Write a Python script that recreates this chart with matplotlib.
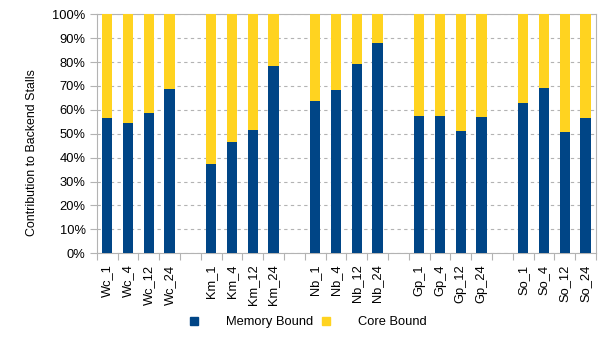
import matplotlib
matplotlib.use("Agg")
import matplotlib.pyplot as plt
from matplotlib.lines import Line2D
import numpy as np

plt.rcParams['font.family'] = ['Liberation Sans', 'DejaVu Sans']

categories = ["Wc_1", "Wc_4", "Wc_12", "Wc_24", "",
              "Km_1", "Km_4", "Km_12", "Km_24", "",
              "Nb_1", "Nb_4", "Nb_12", "Nb_24", "",
              "Gp_1", "Gp_4", "Gp_12", "Gp_24", "",
              "So_1", "So_4", "So_12", "So_24"]
memory_bound = [56.7, 54.6, 58.9, 68.8, np.nan,
                37.5, 46.7, 51.7, 78.2, np.nan,
                63.6, 68.2, 79.4, 87.9, np.nan,
                57.5, 57.4, 51.0, 57.2, np.nan,
                62.8, 69.0, 50.7, 56.7]
core_bound = [43.3, 45.4, 41.1, 31.2, np.nan,
              62.5, 53.3, 48.3, 21.8, np.nan,
              36.4, 31.8, 20.6, 12.1, np.nan,
              42.5, 42.6, 49.0, 42.8, np.nan,
              37.2, 31.0, 49.3, 43.3]
yticks = [0, 10, 20, 30, 40, 50, 60, 70, 80, 90, 100]

BLUE = "#004586"
YELLOW = "#ffd320"
GRID = "#b3b3b3"

fig = plt.figure(figsize=(6.05, 3.40), dpi=100)
ax = fig.add_axes([0.160, 0.255, 0.825, 0.703])

x = np.arange(len(categories))
mem = np.array(memory_bound)
core = np.array(core_bound)
ax.bar(x, mem, width=0.5, color=BLUE, zorder=3)
ax.bar(x, core, width=0.5, bottom=mem, color=YELLOW, zorder=3)

ax.set_xlim(-0.5, len(categories) - 0.5)
ax.set_ylim(0, 100)
ax.set_yticks(yticks)
ax.set_yticklabels([f"{v}%" for v in yticks], fontsize=9.3, color="#000000")
ax.set_xticks(x)
ax.set_xticklabels(categories, rotation=90, fontsize=9.3)
ax.set_xticks(np.arange(-0.5, len(categories), 1.0), minor=True)
ax.tick_params(axis='x', which='major', length=0, pad=8)
ax.tick_params(axis='x', which='minor', length=5, color=GRID, width=0.8)
ax.tick_params(axis='y', which='major', length=5, color=GRID, width=0.8, pad=3)

ax.yaxis.grid(True, color=GRID, linestyle=(0, (3, 3)), linewidth=0.8, zorder=0)
for s in ax.spines.values():
    s.set_color(GRID)
    s.set_linewidth(0.8)

ax.set_ylabel("Contribution to Backend Stalls", fontsize=8.9)
ax.yaxis.set_label_coords(-0.117, 0.42)

handles = [Line2D([], [], marker='s', linestyle='none', markersize=5.5,
                  markerfacecolor=BLUE, markeredgecolor=BLUE),
           Line2D([], [], marker='s', linestyle='none', markersize=5.5,
                  markerfacecolor=YELLOW, markeredgecolor=YELLOW)]
fig.legend(handles, ["Memory Bound", "Core Bound"], loc='center',
           bbox_to_anchor=(307 / 605, 1 - 322 / 340), ncol=2, frameon=False,
           fontsize=9.3, handlelength=1.0, handletextpad=2.0,
           columnspacing=0.5, borderpad=0)

fig.savefig("out.png", dpi=100)
